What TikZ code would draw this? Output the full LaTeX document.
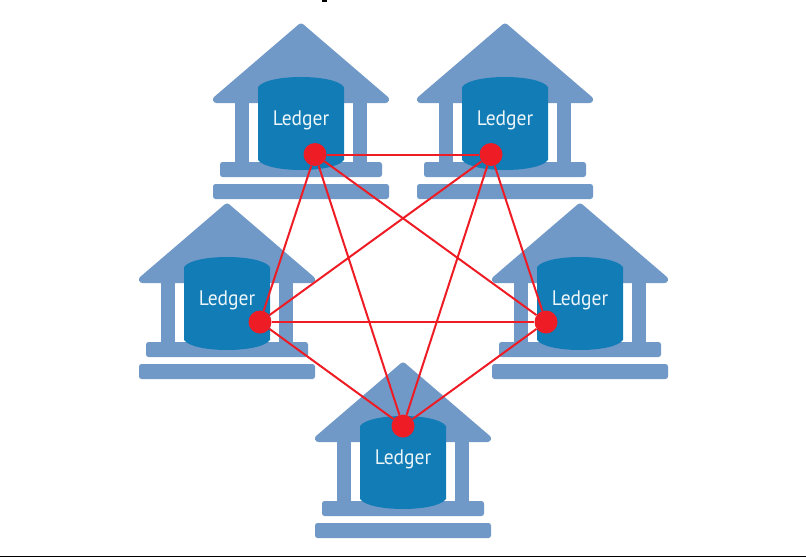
\documentclass[tikz,border=0pt]{standalone}
\usepackage{fontspec}
\setmainfont{PT Sans}
\definecolor{bankblue}{HTML}{7199C8}
\definecolor{drumblue}{HTML}{117CB5}
\definecolor{linkred}{HTML}{EE1C25}
\tikzset{
  bankpart/.style={fill=bankblue,draw=none},
  drum/.style={fill=drumblue,draw=none},
  ledgerlabel/.style={text=white!92!drumblue,font=\fontsize{21}{23}\selectfont,xscale=.93,inner sep=0pt},
  dot/.style={circle,fill=linkred,draw=none,minimum size=23pt,inner sep=0pt},
  link/.style={draw=linkred,line width=2pt},
  pics/bank/.style={code={
    % roof
    \path[fill=bankblue,draw=bankblue,line width=7pt,line join=round] (0,4) -- (84.5,76.5) -- (-84.5,76.5) -- cycle;
    \path[bankpart] (-66,79) rectangle (-52,140);
    \path[bankpart] (52,79) rectangle (66,140);
    \path[bankpart,rounded corners=2.5pt] (-81,139) rectangle (81,154);
    \path[bankpart,rounded corners=2.5pt] (-88,161) rectangle (88,176);
    \path[drum] (-43,64) .. controls (-38,57) and (-18,54) .. (0,54)
       .. controls (18,54) and (38,57) .. (43,64)
       -- (43,137) .. controls (38,144) and (18,147) .. (0,147)
       .. controls (-18,147) and (-38,144) .. (-43,137) -- cycle;
    \node[ledgerlabel] at (0,97.5) {Ledger};
  }}
}
\begin{document}
\begin{tikzpicture}[x=1pt,y=-1pt]
\useasboundingbox (0,0) rectangle (806,557);
\fill[black] (322,0) rectangle (327,2);
\fill[black] (0,555.5) rectangle (806,557);
\pic at (301,23) {bank};
\pic at (505,23) {bank};
\pic at (227,203) {bank};
\pic at (580,203) {bank};
\pic at (403,362) {bank};
\node[dot] (a) at (315,154.5) {};
\node[dot] (b) at (491,154.5) {};
\node[dot] (c) at (260,322) {};
\node[dot] (d) at (546,322) {};
\node[dot] (e) at (403,426) {};
\foreach \p/\q in {a/b,a/c,a/d,a/e,b/c,b/d,b/e,c/d,c/e,d/e}
  \draw[link] (\p) -- (\q);
\end{tikzpicture}
\end{document}
